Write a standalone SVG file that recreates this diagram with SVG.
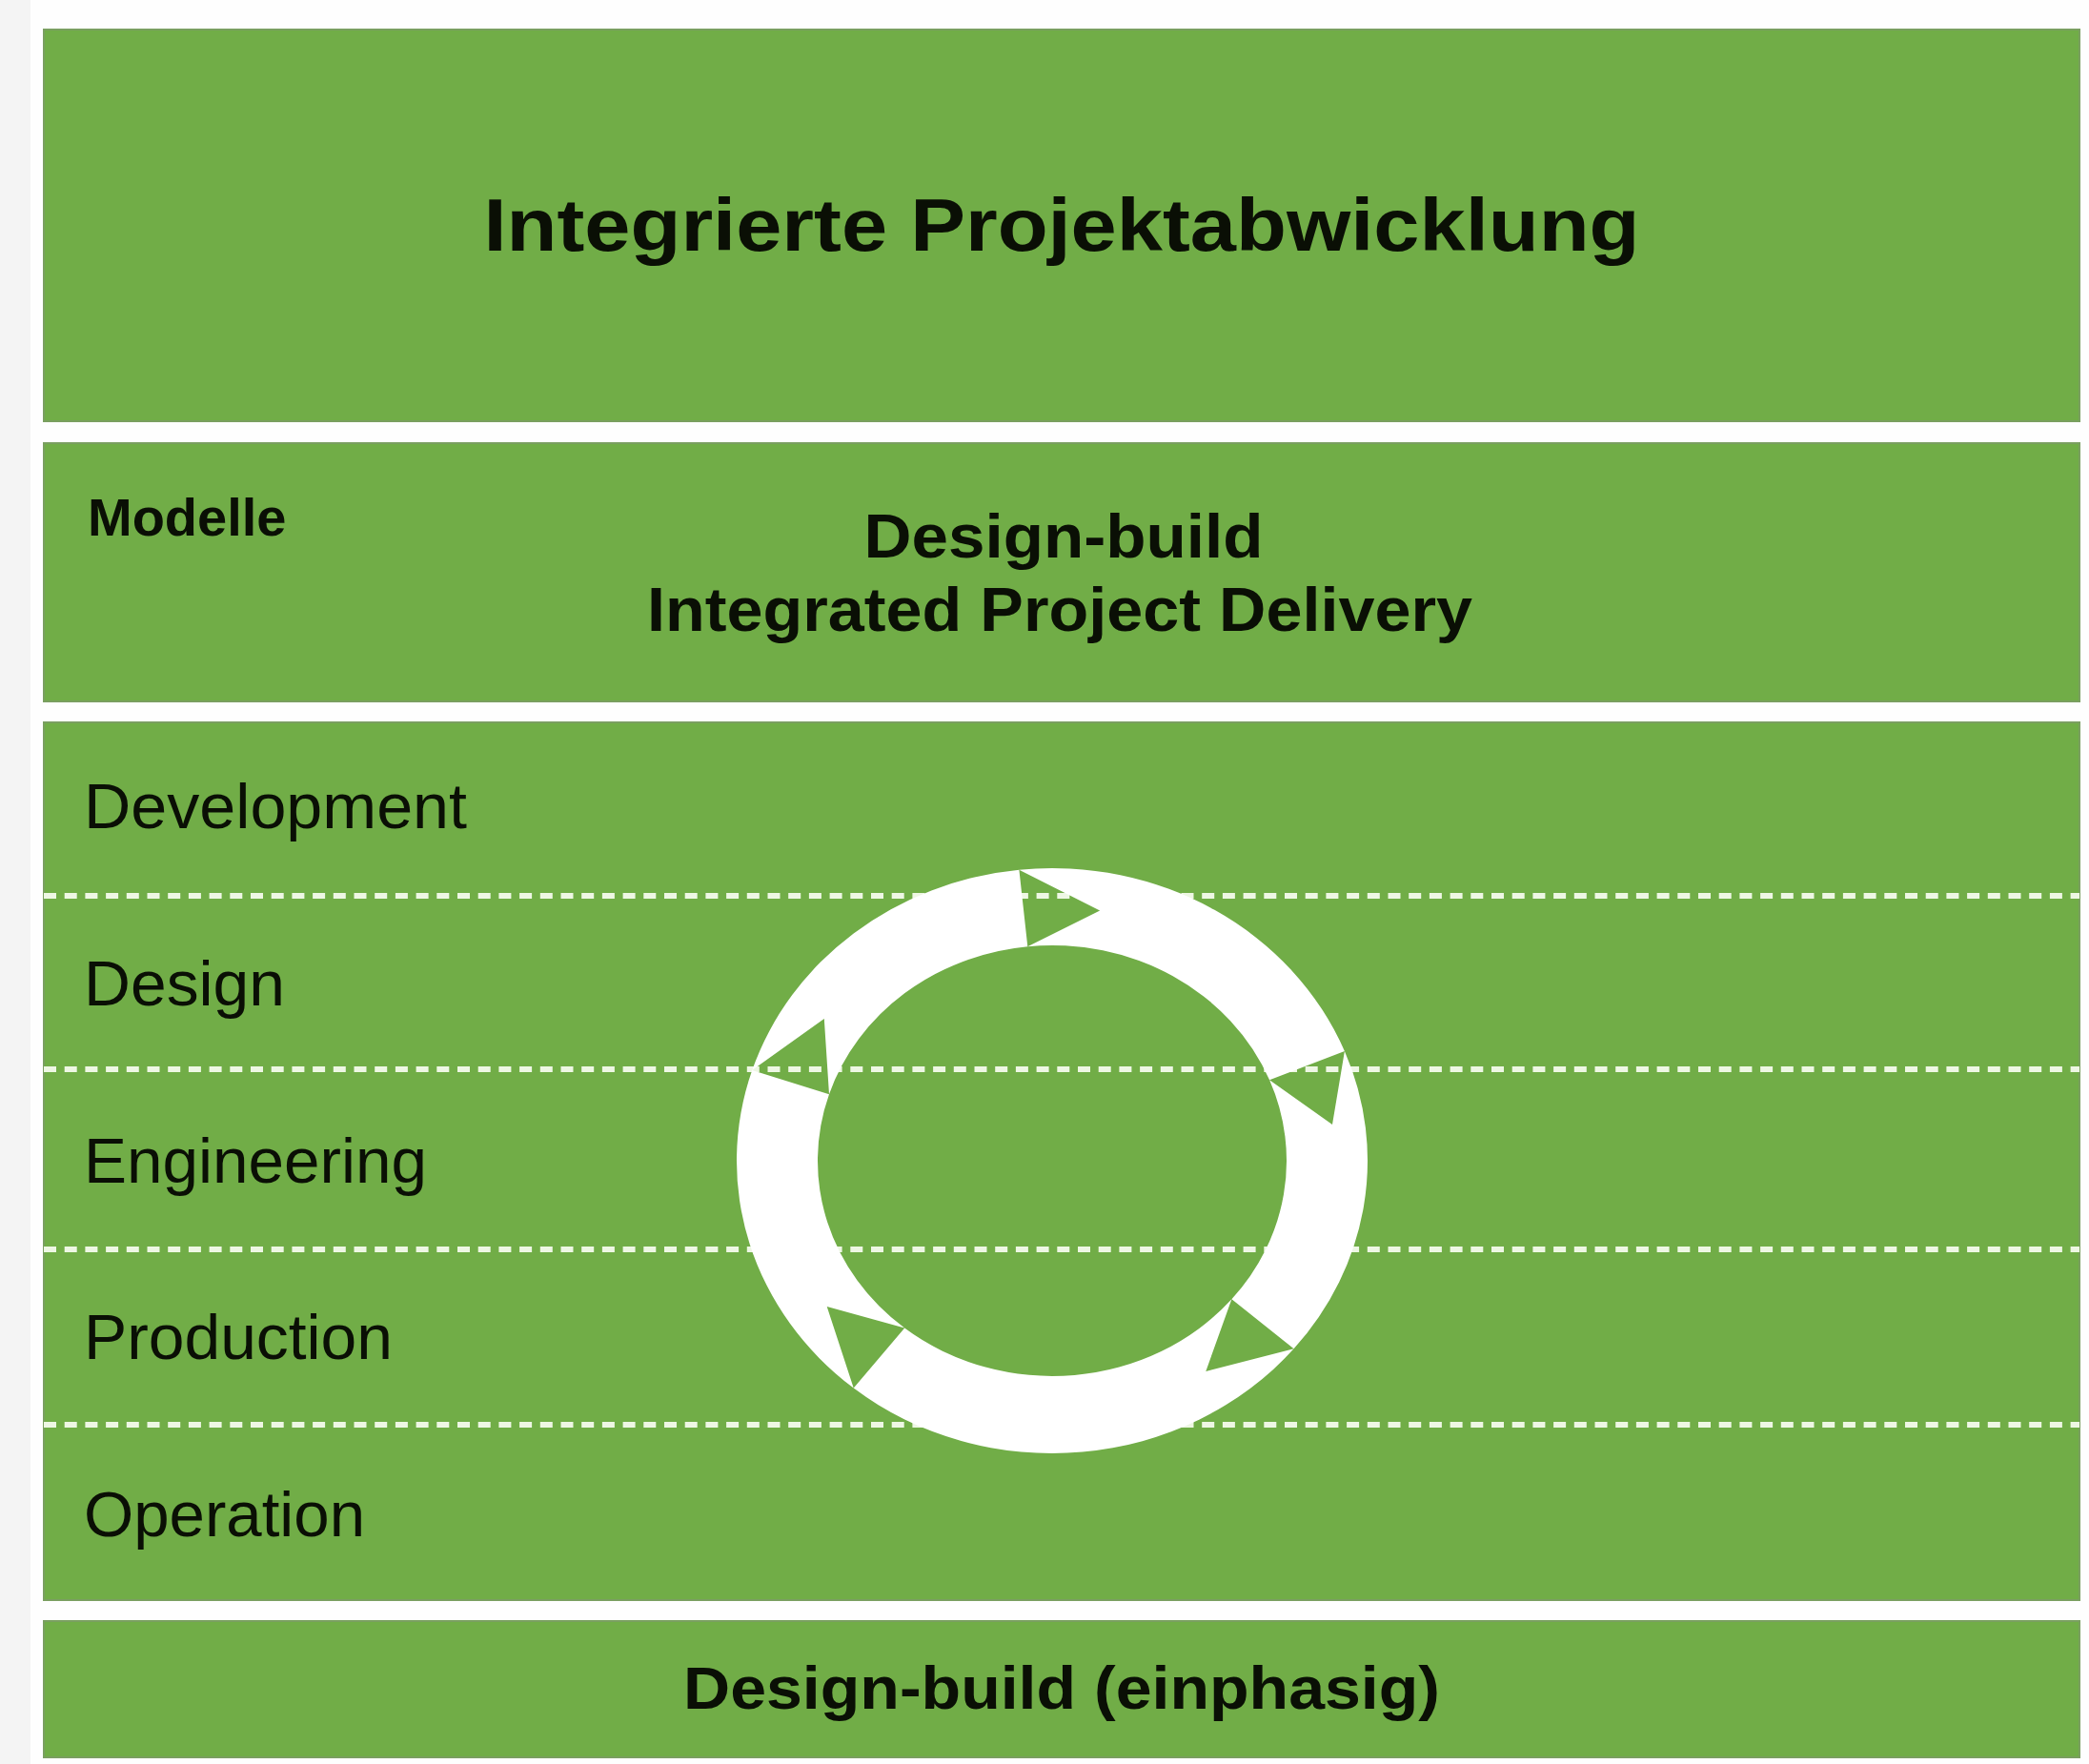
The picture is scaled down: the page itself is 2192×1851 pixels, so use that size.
<svg xmlns="http://www.w3.org/2000/svg" width="2192" height="1851" viewBox="0 0 2192 1851">
  <style>
    .band { fill: #71ad47; stroke: #7a9f60; stroke-width: 2; }
    .bold { font-family: "Liberation Sans", Arial, sans-serif; font-weight: bold; fill: #0a0f05; }
    .row { font-family: "Liberation Sans", Arial, sans-serif; font-size: 67px; fill: #0a0f05; }
    .dash { stroke: #eef7e4; stroke-width: 6; stroke-dasharray: 13 8.7; fill: none; }
    .seg { fill: #ffffff; }
  </style>
  <rect x="0" y="0" width="2192" height="1851" fill="#fefefe"/>
  <rect x="0" y="0" width="32" height="1851" fill="#f4f4f4"/>

  <g id="band-title">
    <rect class="band" x="46" y="31" width="2136" height="411"/>
    <text class="bold" x="1114" y="263" font-size="77" text-anchor="middle" textLength="1213" lengthAdjust="spacingAndGlyphs">Integrierte Projektabwicklung</text>
  </g>

  <g id="band-models">
    <rect class="band" x="46" y="465" width="2136" height="271"/>
    <text class="bold" x="92" y="562" font-size="56">Modelle</text>
    <text class="bold" x="1116" y="585" font-size="65" text-anchor="middle" textLength="419" lengthAdjust="spacingAndGlyphs">Design-build</text>
    <text class="bold" x="1112" y="662" font-size="64" text-anchor="middle" textLength="866" lengthAdjust="spacingAndGlyphs">Integrated Project Delivery</text>
  </g>

  <g id="band-phases">
    <rect class="band" x="46" y="758" width="2136" height="921"/>
    <line class="dash" x1="46" y1="940" x2="2182" y2="940"/>
    <line class="dash" x1="46" y1="1122" x2="2182" y2="1122"/>
    <line class="dash" x1="46" y1="1311" x2="2182" y2="1311"/>
    <line class="dash" x1="46" y1="1495" x2="2182" y2="1495"/>
    <g id="phase-development"><text class="row" x="88" y="869" textLength="402" lengthAdjust="spacingAndGlyphs">Development</text></g>
    <g id="phase-design"><text class="row" x="88" y="1055" textLength="211" lengthAdjust="spacingAndGlyphs">Design</text></g>
    <g id="phase-engineering"><text class="row" x="88" y="1241" textLength="360" lengthAdjust="spacingAndGlyphs">Engineering</text></g>
    <g id="phase-production"><text class="row" x="88" y="1426" textLength="324" lengthAdjust="spacingAndGlyphs">Production</text></g>
    <g id="phase-operation"><text class="row" x="88" y="1612" textLength="295" lengthAdjust="spacingAndGlyphs">Operation</text></g>
  </g>

  <g id="connectors">
    <path class="seg" d="M1069.4,912.7 A331,307 0 0 1 1410.9,1103.0 L1332.1,1133.3 A246,226 0 0 0 1078.3,993.2 L1154.1,955.5 Z"/>
    <path class="seg" d="M1410.9,1103.0 A331,307 0 0 1 1357.6,1415.3 L1292.4,1363.3 A246,226 0 0 0 1332.1,1133.3 L1398,1180 Z"/>
    <path class="seg" d="M1357.6,1415.3 A331,307 0 0 1 895.7,1456.6 L949.2,1393.6 A246,226 0 0 0 1292.4,1363.3 L1265.3,1438.9 Z"/>
    <path class="seg" d="M895.7,1456.6 A331,307 0 0 1 789.2,1123.1 L870.0,1148.2 A246,226 0 0 0 949.2,1393.6 L867.7,1370.9 Z"/>
    <path class="seg" d="M789.2,1123.1 A331,307 0 0 1 1069.4,912.7 L1078.3,993.2 A246,226 0 0 0 870.0,1148.2 L864.8,1069.0 Z"/>
  </g>

  <g id="band-single">
    <rect class="band" x="46" y="1701" width="2136" height="143"/>
    <text class="bold" x="1114" y="1793" font-size="63" text-anchor="middle" textLength="794" lengthAdjust="spacingAndGlyphs">Design-build (einphasig)</text>
  </g>
</svg>
